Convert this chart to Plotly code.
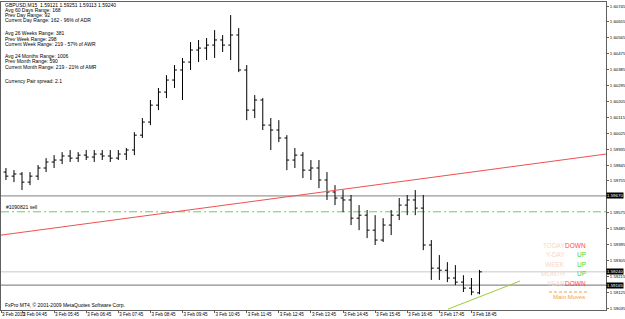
import plotly.graph_objects as go
import pandas as pd

# ---------------- data ----------------
bar_times = pd.date_range("2010-02-03 04:15", periods=60, freq="15min")

opens = [1.59805, 1.59782, 1.59794, 1.59748, 1.59782, 1.59828, 1.59862, 1.59873, 1.59896, 1.59884,
         1.59901, 1.59890, 1.59907, 1.59896, 1.59884, 1.59907, 1.59930, 1.60014, 1.60088, 1.60184,
         1.60258, 1.60326, 1.60383, 1.60428, 1.60496, 1.60507, 1.60524, 1.60553, 1.60524, 1.60581,
         1.60383, 1.60156, 1.60213, 1.60071, 1.60043, 1.59998, 1.59873, 1.59901, 1.59816, 1.59828,
         1.59760, 1.59692, 1.59658, 1.59647, 1.59544, 1.59561, 1.59476, 1.59420, 1.59505, 1.59561,
         1.59618, 1.59647, 1.59601, 1.59392, 1.59261, 1.59249, 1.59205, 1.59182, 1.59148, 1.59121]
highs = [1.59828, 1.59816, 1.59805, 1.59805, 1.59845, 1.59884, 1.59901, 1.59918, 1.59930, 1.59918,
         1.59930, 1.59930, 1.59930, 1.59930, 1.59930, 1.59941, 1.60031, 1.60111, 1.60213, 1.60281,
         1.60354, 1.60411, 1.60451, 1.60541, 1.60553, 1.60564, 1.60609, 1.60581, 1.60694, 1.60620,
         1.60411, 1.60241, 1.60224, 1.60111, 1.60099, 1.60014, 1.59941, 1.59918, 1.59873, 1.59873,
         1.59805, 1.59731, 1.59703, 1.59675, 1.59618, 1.59590, 1.59561, 1.59544, 1.59590, 1.59658,
         1.59675, 1.59703, 1.59675, 1.59420, 1.59335, 1.59295, 1.59278, 1.59221, 1.59205, 1.59251]
lows = [1.59760, 1.59748, 1.59703, 1.59731, 1.59760, 1.59805, 1.59828, 1.59850, 1.59862, 1.59862,
        1.59873, 1.59862, 1.59873, 1.59862, 1.59873, 1.59873, 1.59901, 1.59998, 1.60071, 1.60156,
        1.60224, 1.60281, 1.60213, 1.60383, 1.60428, 1.60439, 1.60451, 1.60485, 1.60439, 1.60371,
        1.60099, 1.60111, 1.60043, 1.59930, 1.59975, 1.59816, 1.59828, 1.59771, 1.59760, 1.59714,
        1.59647, 1.59618, 1.59578, 1.59505, 1.59476, 1.59431, 1.59392, 1.59409, 1.59448, 1.59533,
        1.59561, 1.59561, 1.59363, 1.59194, 1.59194, 1.59182, 1.59165, 1.59126, 1.59108, 1.59113]
closes = [1.59782, 1.59794, 1.59748, 1.59782, 1.59828, 1.59862, 1.59873, 1.59896, 1.59884, 1.59901,
          1.59890, 1.59907, 1.59896, 1.59884, 1.59907, 1.59930, 1.60014, 1.60088, 1.60184, 1.60258,
          1.60326, 1.60383, 1.60428, 1.60496, 1.60507, 1.60524, 1.60553, 1.60524, 1.60581, 1.60383,
          1.60156, 1.60213, 1.60071, 1.60043, 1.59998, 1.59873, 1.59901, 1.59816, 1.59828, 1.59760,
          1.59692, 1.59658, 1.59647, 1.59544, 1.59561, 1.59476, 1.59420, 1.59505, 1.59561, 1.59618,
          1.59647, 1.59601, 1.59392, 1.59261, 1.59249, 1.59205, 1.59182, 1.59148, 1.59126, 1.59240]

red_trend_times = ["2010-02-03 04:05:45", "2010-02-03 22:56:30"]
red_trend_prices = [1.59448, 1.59907]
green_trend_times = ["2010-02-03 18:01:15", "2010-02-03 20:15:50"]
green_trend_prices = [1.59029, 1.59188]

level_prices = [1.59670, 1.59240, 1.59165]
level_labels = ["1.59670", "1.59240", "1.59165"]
sell_price = 1.59580
sell_label = "#1090821 sell"

x_tick_times = ["2010-02-03 04:05:45"] + [f"2010-02-03 {h:02d}:45" for h in range(4, 19)]
x_tick_text = ["3 Feb 2010"] + [f"3 Feb {h:02d}:45" for h in range(4, 19)]
y_tick_vals = [1.59035, 1.59125, 1.59215, 1.59305, 1.59395, 1.59485, 1.59575, 1.59665, 1.59755,
               1.59845, 1.59935, 1.60025, 1.60115, 1.60205, 1.60295, 1.60385, 1.60475, 1.60565,
               1.60655, 1.60745]
y_hidden_labels = [1.59665]   # covered by the black price box in the reference

info_lines = ["GBPUSD,M15  1.59121 1.59251 1.59113 1.59240",
              "Avg 60 Days Range: 168", "Prev Day Range: 92", "Current Day Range: 162 - 96% of ADR",
              "Avg 26 Weeks Range: 381", "Prev Week Range: 298", "Current Week Range: 219 - 57% of AWR",
              "Avg 24 Months Range: 1006", "Prev Month Range: 590", "Current Month Range: 219 - 21% of AMR",
              "Currency Pair spread: 2.1"]
info_rows_px = [4.7, 9.9, 15.1, 20.4, 33.3, 38.5, 43.7, 56.0, 61.3, 66.6, 81.0]

move_names = ["TODAY", "Y-DAY", "WEEK", "MONTH", "YEAR"]
move_dirs = ["DOWN", "UP", "UP", "UP", "DOWN"]
move_rows_px = [245, 254.5, 264, 273.5, 283]

# ---------------- layout helpers ----------------
W, H = 625, 319
PL, PR, PT, PB = 1, 606, 2, 310
def px_x(px):
    return (px - PL) / (PR - PL)
def px_y(py):
    return (PB - py) / (PB - PT)

FONT = "Liberation Sans, Arial, sans-serif"

fig = go.Figure()

# horizontal levels
level_colors = ["#808080", "#C8C8C8", "#707070"]
for p, c in zip(level_prices, level_colors):
    fig.add_shape(type="line", xref="paper", yref="y", x0=0, x1=1, y0=p, y1=p,
                  line=dict(color=c, width=1), layer="below")
fig.add_shape(type="line", xref="paper", yref="y", x0=0, x1=1, y0=sell_price, y1=sell_price,
              line=dict(color="#6CCB6C", width=1, dash="8px,3px,2px,3px"), layer="below")

fig.add_trace(go.Scatter(x=red_trend_times, y=red_trend_prices, mode="lines",
                         line=dict(color="#F05050", width=1), hoverinfo="skip", showlegend=False))
fig.add_trace(go.Scatter(x=green_trend_times, y=green_trend_prices, mode="lines",
                         line=dict(color="#9ACD32", width=1), hoverinfo="skip", showlegend=False))

fig.add_trace(go.Ohlc(x=bar_times, open=opens, high=highs, low=lows, close=closes,
                      increasing=dict(line=dict(color="black", width=1)),
                      decreasing=dict(line=dict(color="black", width=1)),
                      tickwidth=0.3, hoverinfo="skip", showlegend=False))

ann = []
for txt, py in zip(info_lines, info_rows_px):
    ann.append(dict(xref="paper", yref="paper", x=px_x(3), y=px_y(py), xanchor="left", yanchor="middle",
                    text=txt, showarrow=False, font=dict(family=FONT, size=5, color="black")))
ann.append(dict(xref="paper", yref="paper", x=px_x(3), y=px_y(305), xanchor="left", yanchor="middle",
                text="FxPro MT4, © 2001-2009 MetaQuotes Software Corp.", showarrow=False,
                font=dict(family=FONT, size=5, color="black")))
ann.append(dict(xref="paper", yref="y", x=px_x(4), y=sell_price, xanchor="left", yanchor="bottom",
                yshift=0, text=sell_label, showarrow=False, font=dict(family=FONT, size=5, color="black")))
for p, t in zip(level_prices, level_labels):
    ann.append(dict(xref="paper", yref="y", x=1, y=p, xanchor="left", yanchor="middle", xshift=0,
                    text=t, showarrow=False, bgcolor="black", borderpad=0,
                    font=dict(family=FONT, size=4.4, color="white")))
for name, d, py in zip(move_names, move_dirs, move_rows_px):
    ann.append(dict(xref="paper", yref="paper", x=px_x(567), y=px_y(py), xanchor="right", yanchor="middle",
                    text=name, showarrow=False, font=dict(family=FONT, size=6.5, color="#F8D6C4")))
    ann.append(dict(xref="paper", yref="paper", x=px_x(588), y=px_y(py), xanchor="right", yanchor="middle",
                    text=d, showarrow=False,
                    font=dict(family=FONT, size=6.5, color="#FF4848" if d == "DOWN" else "#3CD83C")))
ann.append(dict(xref="paper", yref="paper", x=px_x(568.5), y=px_y(296.5), xanchor="center", yanchor="middle",
                text="Main Moves", showarrow=False, font=dict(family=FONT, size=6, color="#F8A040")))
fig.add_shape(type="line", xref="paper", yref="paper", x0=px_x(549), x1=px_x(588), y0=px_y(292), y1=px_y(292),
              line=dict(color="#F8A040", width=1, dash="3px,2px"))

fig.update_layout(
    template="none",
    width=W, height=H,
    margin=dict(l=PL, r=W - PR, t=PT, b=H - PB, autoexpand=False),
    paper_bgcolor="white", plot_bgcolor="white",
    showlegend=False, annotations=ann,
    font=dict(family=FONT, size=5, color="black"),
    xaxis=dict(type="date", range=["2010-02-03 04:05:45", "2010-02-03 22:56:30"],
               automargin=False, tickangle=0,
               rangeslider=dict(visible=False), showgrid=False, zeroline=False,
               showline=True, linecolor="#606060", linewidth=1, mirror=True,
               ticks="outside", ticklen=2, tickcolor="#606060",
               tickvals=x_tick_times, ticktext=x_tick_text, ticklabelposition="outside right",
               tickfont=dict(family=FONT, size=4.5, color="black")),
    yaxis=dict(side="right", range=[1.59024, 1.60768], automargin=False,
               showgrid=False, zeroline=False,
               showline=True, linecolor="#606060", linewidth=1, mirror=True,
               ticks="outside", ticklen=2, tickcolor="#606060",
               tickvals=y_tick_vals,
               ticktext=["" if v in y_hidden_labels else f"{v:.5f}" for v in y_tick_vals],
               tickfont=dict(family=FONT, size=4.3, color="black")),
)

fig.write_html("out.html")
